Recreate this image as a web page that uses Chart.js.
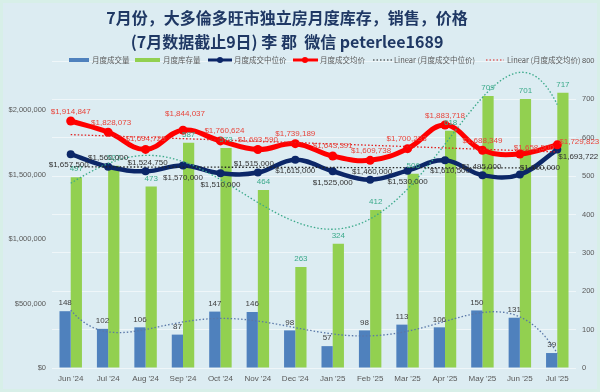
<!DOCTYPE html>
<html>
<head>
<meta charset="utf-8">
<script src="https://cdn.jsdelivr.net/npm/chart.js@4.4.1/dist/chart.umd.min.js"></script>
<style>
  html, body { margin: 0; padding: 0; background: #d9eef0; }
  #wrap { width: 600px; height: 392px; }
</style>
</head>
<body>
<div id="wrap"><canvas id="chart" width="600" height="392"></canvas></div>
<script>
// data
var months = ["Jun '24", "Jul '24", "Aug '24", "Sep '24", "Oct '24", "Nov '24", "Dec '24",
              "Jan '25", "Feb '25", "Mar '25", "Apr '25", "May '25", "Jun '25", "Jul '25"];
var volume = [148, 102, 106, 87, 147, 146, 98, 57, 98, 113, 106, 150, 131, 39];
var inventory = [497, 527, 473, 587, 573, 464, 263, 324, 412, 506, 618, 709, 701, 717];
var medianPrice = [1657500, 1560000, 1524750, 1570000, 1510000, 1515000, 1615000,
                   1525000, 1460000, 1530000, 1610500, 1495000, 1500000, 1693722];
var meanPrice = [1914847, 1828073, 1694723, 1844037, 1760624, 1693590, 1739189,
                 1643391, 1609738, 1700233, 1883718, 1688349, 1658500, 1729823];
var priceTicks = [0, 500000, 1000000, 1500000, 2000000];
var priceMax = 2380000;
var countMax = 800;

var titleLines = ["7月份，大多倫多旺市独立房月度库存，销售，价格", "(7月数据截止9日) 李 郡  微信 peterlee1689"];
var legendNames = ["月度成交量", "月度库存量", "月度成交中位价", "月度成交均价",
                   "Linear (月度成交中位价)", "Linear (月度成交均价)"];

// label nudges [dx, dy] relative to each point
var medianLabelPos = [[-2, 11], [0, -9], [2, -9], [0, 12], [0, 12], [-4, -9], [0, 11],
                      [0, 12], [2, -8], [0, 11], [5, 11], [-1, -8], [20, -7], [21, 7]];
var meanLabelPos = [[0, -9], [3, -9], [0, -11], [2, -16], [4, -10], [0, -10], [0, -10],
                    [0, -10], [1, -10], [-1, -10], [0, -9], [0, -9], [14, -6], [22, -3]];

var colors = {
  volume: "#4f81bd",
  inventory: "#92d050",
  median: "#0c2768",
  mean: "#ff0000",
  invLabel: "#3aa98a",
  text: "#595959",
  title: "#1f3864"
};

function money(v) {
  return "$" + v.toLocaleString("en-US");
}

// least squares polynomial, x normalised to [-1, 1]
function polyFit(ys, order) {
  var n = ys.length;
  var m = order + 1;
  var A = [];
  var b = [];
  for (var r = 0; r < m; r++) {
    A.push(new Array(m).fill(0));
    b.push(0);
  }
  for (var i = 0; i < n; i++) {
    var t = i / (n - 1) * 2 - 1;
    for (var r = 0; r < m; r++) {
      b[r] += ys[i] * Math.pow(t, r);
      for (var c = 0; c < m; c++) A[r][c] += Math.pow(t, r + c);
    }
  }
  for (var k = 0; k < m; k++) {
    var p = k;
    for (var r = k + 1; r < m; r++) if (Math.abs(A[r][k]) > Math.abs(A[p][k])) p = r;
    var tmp = A[k]; A[k] = A[p]; A[p] = tmp;
    var tb = b[k]; b[k] = b[p]; b[p] = tb;
    for (var r = k + 1; r < m; r++) {
      var f = A[r][k] / A[k][k];
      for (var c = k; c < m; c++) A[r][c] -= f * A[k][c];
      b[r] -= f * b[k];
    }
  }
  var coef = new Array(m).fill(0);
  for (var k = m - 1; k >= 0; k--) {
    var s = b[k];
    for (var c = k + 1; c < m; c++) s -= A[k][c] * coef[c];
    coef[k] = s / A[k][k];
  }
  return function (x) {
    var t = x / (n - 1) * 2 - 1;
    var v = 0;
    for (var k = 0; k < m; k++) v += coef[k] * Math.pow(t, k);
    return v;
  };
}

function drawTrend(chart, fn, axis, color, dash) {
  var ctx = chart.ctx;
  var xs = chart.scales.x;
  var ys = chart.scales[axis];
  var area = chart.chartArea;
  ctx.save();
  ctx.beginPath();
  ctx.rect(area.left, area.top, area.right - area.left, area.bottom - area.top);
  ctx.clip();
  ctx.strokeStyle = color;
  ctx.lineWidth = 1.3;
  ctx.setLineDash(dash);
  ctx.beginPath();
  for (var x = 0; x <= months.length - 1 + 0.001; x += 0.05) {
    var px = xs.getPixelForValue(x);
    var py = ys.getPixelForValue(fn(x));
    if (x === 0) ctx.moveTo(px, py); else ctx.lineTo(px, py);
  }
  ctx.stroke();
  ctx.restore();
}

var extras = {
  id: "extras",
  beforeDraw: function (chart) {
    var ctx = chart.ctx;
    ctx.save();
    ctx.fillStyle = "#d7efe8";
    ctx.fillRect(0, 0, chart.width, chart.height);
    ctx.fillStyle = "#dcecf2";
    ctx.fillRect(3, 3, chart.width - 6, chart.height - 6);
    ctx.restore();
  },
  afterDatasetsDraw: function (chart) {
    var ctx = chart.ctx;
    drawTrend(chart, polyFit(inventory, 5), "y1", "#3aa98a", [1.5, 2]);
    drawTrend(chart, polyFit(volume, 6), "y1", "#5a78a8", [1.5, 2]);
    drawTrend(chart, polyFit(medianPrice, 1), "y", "#222222", [1.5, 2]);
    drawTrend(chart, polyFit(meanPrice, 1), "y", "#e02020", [1.5, 2]);

    ctx.save();
    ctx.font = "8px 'Liberation Sans', Arial, sans-serif";
    ctx.textAlign = "center";
    ctx.textBaseline = "middle";
    var volMeta = chart.getDatasetMeta(2);
    volMeta.data.forEach(function (el, i) {
      ctx.fillStyle = "#404040";
      ctx.fillText(volume[i], el.x, el.y - 8);
    });
    var invMeta = chart.getDatasetMeta(3);
    invMeta.data.forEach(function (el, i) {
      ctx.fillStyle = colors.invLabel;
      ctx.fillText(inventory[i], el.x, el.y - 8);
    });
    var medMeta = chart.getDatasetMeta(1);
    medMeta.data.forEach(function (el, i) {
      ctx.fillStyle = "#333333";
      ctx.fillText(money(medianPrice[i]), el.x + medianLabelPos[i][0], el.y + medianLabelPos[i][1]);
    });
    var meanMeta = chart.getDatasetMeta(0);
    meanMeta.data.forEach(function (el, i) {
      ctx.fillStyle = "#e8453c";
      ctx.fillText(money(meanPrice[i]), el.x + meanLabelPos[i][0], el.y + meanLabelPos[i][1]);
    });
    ctx.restore();
  },
  afterDraw: function (chart) {
    var ctx = chart.ctx;
    ctx.save();
    ctx.fillStyle = colors.title;
    ctx.textAlign = "center";
    ctx.textBaseline = "middle";
    ctx.font = "bold 16px 'Noto Sans CJK SC', sans-serif";
    ctx.fillText(titleLines[0], 287, 18);
    ctx.fillText(titleLines[1], 287, 42);

    // legend
    var ly = 60;
    ctx.font = "7.5px 'Noto Sans CJK SC', sans-serif";
    ctx.textAlign = "left";
    ctx.fillStyle = colors.volume;
    ctx.fillRect(69, ly - 2, 20, 4);
    ctx.fillStyle = colors.inventory;
    ctx.fillRect(135, ly - 2, 25, 4);
    ctx.lineWidth = 3;
    ctx.strokeStyle = colors.median;
    ctx.beginPath(); ctx.moveTo(208, ly); ctx.lineTo(232, ly); ctx.stroke();
    ctx.fillStyle = colors.median;
    ctx.beginPath(); ctx.arc(220, ly, 3, 0, Math.PI * 2); ctx.fill();
    ctx.strokeStyle = colors.mean;
    ctx.beginPath(); ctx.moveTo(293, ly); ctx.lineTo(318, ly); ctx.stroke();
    ctx.fillStyle = colors.mean;
    ctx.beginPath(); ctx.arc(305, ly, 3, 0, Math.PI * 2); ctx.fill();
    ctx.lineWidth = 1.2;
    ctx.setLineDash([1.5, 2]);
    ctx.strokeStyle = "#222222";
    ctx.beginPath(); ctx.moveTo(373, ly); ctx.lineTo(392, ly); ctx.stroke();
    ctx.strokeStyle = "#e02020";
    ctx.beginPath(); ctx.moveTo(486, ly); ctx.lineTo(504, ly); ctx.stroke();
    ctx.setLineDash([]);
    ctx.fillStyle = colors.text;
    var textX = [92, 163, 234, 320, 394, 507];
    legendNames.forEach(function (name, i) {
      ctx.fillText(name, textX[i], ly);
    });
    ctx.restore();
  }
};

var tickFont = { family: "'Liberation Sans', Arial, sans-serif", size: 7.5 };

new Chart(document.getElementById("chart"), {
  type: "bar",
  data: {
    labels: months,
    datasets: [
      {
        type: "line",
        label: "月度成交均价",
        data: meanPrice,
        yAxisID: "y",
        borderColor: colors.mean,
        backgroundColor: colors.mean,
        borderWidth: 5,
        pointRadius: 4.5,
        pointBackgroundColor: colors.mean,
        pointBorderWidth: 0,
        tension: 0.4,
        order: 0
      },
      {
        type: "line",
        label: "月度成交中位价",
        data: medianPrice,
        yAxisID: "y",
        borderColor: colors.median,
        backgroundColor: colors.median,
        borderWidth: 4.5,
        pointRadius: 4,
        pointBackgroundColor: colors.median,
        pointBorderWidth: 0,
        tension: 0.4,
        order: 1
      },
      {
        label: "月度成交量",
        data: volume,
        yAxisID: "y1",
        backgroundColor: colors.volume,
        categoryPercentage: 0.6,
        barPercentage: 1.0,
        order: 3
      },
      {
        label: "月度库存量",
        data: inventory,
        yAxisID: "y1",
        backgroundColor: colors.inventory,
        categoryPercentage: 0.6,
        barPercentage: 1.0,
        order: 3
      }
    ]
  },
  options: {
    responsive: false,
    animation: false,
    layout: { padding: { top: 61, left: 6, right: 4, bottom: 6 } },
    plugins: {
      legend: { display: false },
      title: { display: false },
      tooltip: { enabled: false }
    },
    scales: {
      x: {
        offset: true,
        grid: { display: false, drawTicks: false },
        border: { display: false },
        afterFit: function (axis) { axis.height = 18; },
        ticks: { font: { family: tickFont.family, size: 8 }, color: colors.text, maxRotation: 0, padding: 6 }
      },
      y: {
        position: "left",
        min: 0,
        max: priceMax,
        grid: { display: false, drawTicks: false },
        border: { display: false },
        afterBuildTicks: function (axis) {
          axis.ticks = priceTicks.map(function (v) { return { value: v }; });
        },
        afterFit: function (axis) { axis.width = 46; },
        ticks: {
          font: tickFont,
          color: colors.text,
          padding: 6,
          autoSkip: false,
          callback: function (v) { return money(v); }
        }
      },
      y1: {
        position: "right",
        min: 0,
        max: countMax,
        grid: { color: "rgba(255,255,255,0.55)", lineWidth: 1, drawTicks: false },
        border: { display: false },
        afterFit: function (axis) { axis.width = 20; },
        ticks: { stepSize: 100, font: tickFont, color: colors.text, padding: 6 }
      }
    }
  },
  plugins: [extras]
});
</script>
</body>
</html>
